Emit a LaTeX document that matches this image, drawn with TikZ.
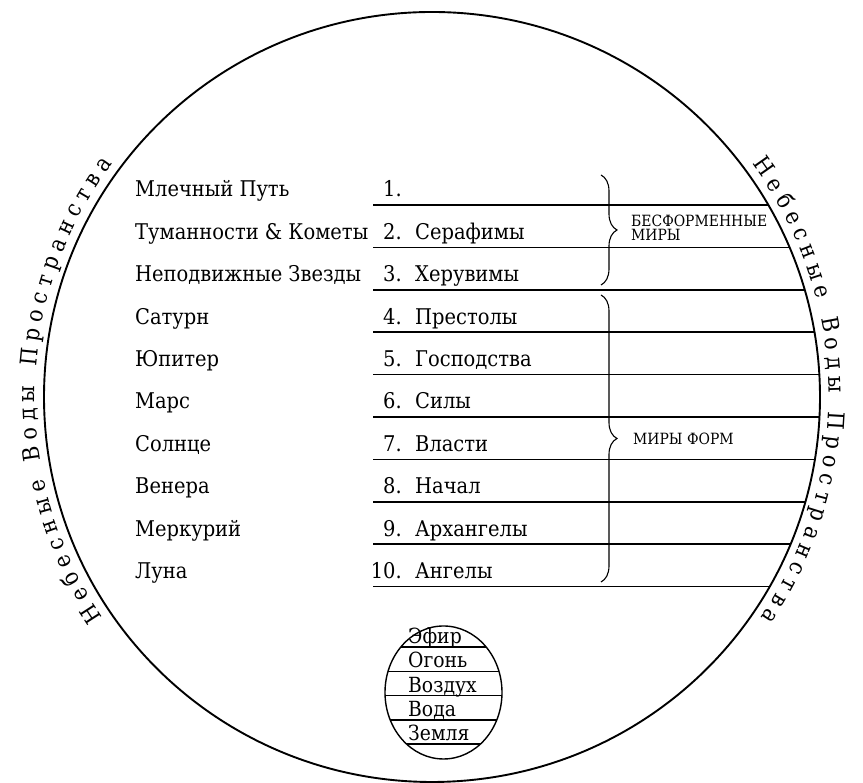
\documentclass[tikz,border=0pt]{standalone}
\usepackage{fontspec}
\IfFontExistsTF{DejaVu Serif Condensed}{\setmainfont{DejaVu Serif Condensed}}{\setmainfont{DejaVu Serif}}
\usetikzlibrary{decorations.text,decorations.pathreplacing}
\newlength\tmpw
\newcommand\curvefont{\fontsize{23}{23}\selectfont}
\begin{document}
\settowidth\tmpw{\fontsize{10}{10}\selectfont Туманности \& Кометы}%
\pgfmathsetmacro\mainsz{2330/\tmpw}%
\settowidth\tmpw{\fontsize{10}{10}\selectfont Воздух}%
\pgfmathsetmacro\elemsz{685/\tmpw}%
\settowidth\tmpw{\fontsize{10}{10}\selectfont БЕСФОРМЕННЫЕ}%
\pgfmathsetmacro\capsz{1360/\tmpw}%
\begin{tikzpicture}[x=1pt,y=1pt]
\tikzset{
  lbl/.style={font=\rmfamily\fontsize{\mainsz}{\mainsz}\selectfont, inner sep=0pt, anchor=base west},
  num/.style={font=\rmfamily\fontsize{\mainsz}{\mainsz}\selectfont, inner sep=0pt, anchor=base east},
  elem/.style={font=\rmfamily\fontsize{\elemsz}{\elemsz}\selectfont, inner sep=0pt, anchor=base west},
  caps/.style={font=\rmfamily\fontsize{\capsz}{\capsz}\selectfont, inner sep=0pt, anchor=base west},
  rowline/.style={line width=1.5pt},
  rim/.style={line width=1.9pt},
  bracestyle/.style={line width=1.1pt, decorate, decoration={brace, amplitude=16pt}},
  curvetext/.style={decorate, decoration={text along path, text={|\rmfamily\curvefont|Небесные Воды Пространства}, text align={fit to path}}}
}
\useasboundingbox (0,0) rectangle (863,783);
\fill[white] (0,0) rectangle (863,783);

% main circle
\draw[rim] (432,386) ellipse [x radius=388, y radius=385];

% row lines clipped to the circle
\begin{scope}
  \clip (432,386) ellipse [x radius=388, y radius=385];
  \foreach \i in {0,...,9}{
    \draw[rowline] (373,{578-42.4*\i}) -- (900,{578-42.4*\i});
  }
\end{scope}

% left labels
\node[lbl] (l1) at (135,586) {Млечный Путь};
\node[lbl] (l2) at (135,543.6) {Туманности \& Кометы};
\node[lbl] (l3) at (135,501.2) {Неподвижные Звезды};
\node[lbl] (l4) at (135,458.8) {Сатурн};
\node[lbl] (l5) at (135,416.4) {Юпитер};
\node[lbl] (l6) at (135,374) {Марс};
\node[lbl] (l7) at (135,331.6) {Солнце};
\node[lbl] (l8) at (135,289.2) {Венера};
\node[lbl] (l9) at (135,246.8) {Меркурий};
\node[lbl] (l10) at (135,204.4) {Луна};

% numbers
\node[num] (n1) at (402,586) {1.};
\node[num] (n2) at (402,543.6) {2.};
\node[num] (n3) at (402,501.2) {3.};
\node[num] (n4) at (402,458.8) {4.};
\node[num] (n5) at (402,416.4) {5.};
\node[num] (n6) at (402,374) {6.};
\node[num] (n7) at (402,331.6) {7.};
\node[num] (n8) at (402,289.2) {8.};
\node[num] (n9) at (402,246.8) {9.};
\node[num] (n10) at (402,204.4) {10.};

% hierarchy names
\node[lbl] (a2) at (415,543.6) {Серафимы};
\node[lbl] (a3) at (415,501.2) {Херувимы};
\node[lbl] (a4) at (415,458.8) {Престолы};
\node[lbl] (a5) at (415,416.4) {Господства};
\node[lbl] (a6) at (415,374) {Силы};
\node[lbl] (a7) at (415,331.6) {Власти};
\node[lbl] (a8) at (415,289.2) {Начал};
\node[lbl] (a9) at (415,246.8) {Архангелы};
\node[lbl] (a10) at (415,204.4) {Ангелы};

% braces
\draw[bracestyle] (601,608) -- (601,498);
\draw[bracestyle] (601,488) -- (601,201);
\node[caps] (b1) at (631,556) {БЕСФОРМЕННЫЕ};
\node[caps] (b2) at (631,542) {МИРЫ};
\node[caps] (b3) at (633,338) {МИРЫ ФОРМ};

% small circle of elements
\draw[line width=1.4pt] (443.5,90.5) ellipse [x radius=58.5, y radius=66.5];
\begin{scope}
  \clip (443.5,90.5) ellipse [x radius=58.5, y radius=66.5];
  \foreach \y in {136,111.7,87.4,63.1,38.8}{
    \draw[line width=1.4pt] (380,\y) -- (510,\y);
  }
\end{scope}
\node[elem] (e1) at (408,139.5) {Эфир};
\node[elem] (e2) at (408,115.2) {Огонь};
\node[elem] (e3) at (408,90.9) {Воздух};
\node[elem] (e4) at (408,66.6) {Вода};
\node[elem] (e5) at (408,42.3) {Земля};

% curved texts outside the circle
\begin{scope}[shift={(432,386)}]
  \path[curvetext] (214:397 and 394) arc[start angle=214, end angle=143.7, x radius=397, y radius=394];
  \path[curvetext] (36.3:397 and 394) arc[start angle=36.3, end angle=-34, x radius=397, y radius=394];
\end{scope}
\end{tikzpicture}
\end{document}
